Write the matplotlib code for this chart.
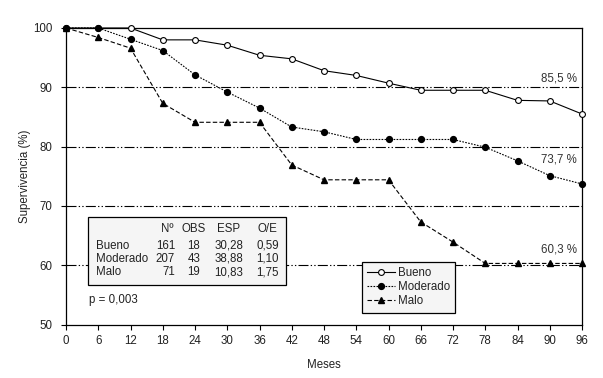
import matplotlib
matplotlib.use("Agg")
import matplotlib.pyplot as plt
import matplotlib.patches as mpatches

plt.rcParams["font.family"] = ["Liberation Sans", "DejaVu Sans"]

# Survival (%) per group
months = [0, 6, 12, 18, 24, 30, 36, 42, 48, 54, 60, 66, 72, 78, 84, 90, 96]
bueno = [100, 100, 100, 98.0, 98.0, 97.1, 95.4, 94.8, 92.8, 92.0, 90.7, 89.5, 89.5, 89.5, 87.8, 87.7, 85.5]
moderado = [100, 100, 98.1, 96.2, 92.1, 89.2, 86.5, 83.3, 82.5, 81.2, 81.2, 81.2, 81.2, 79.9, 77.6, 75.1, 73.7]
malo = [100, 98.4, 96.6, 87.3, 84.1, 84.1, 84.1, 76.9, 74.4, 74.4, 74.4, 67.3, 63.9, 60.3, 60.3, 60.3, 60.3]

end_labels = ["85,5 %", "73,7 %", "60,3 %"]

# Summary table
tbl_header = ["Nº", "OBS", "ESP", "O/E"]
tbl_groups = ["Bueno", "Moderado", "Malo"]
tbl_n = ["161", "207", "71"]
tbl_obs = ["18", "43", "19"]
tbl_esp = ["30,28", "38,88", "10,83"]
tbl_oe = ["0,59", "1,10", "1,75"]
p_text = "p = 0,003"

fs = 8.3
txt = "#222222"

fig = plt.figure(figsize=(6.03, 3.78), dpi=100)
ax = fig.add_axes([66 / 603, 1 - 324.5 / 378, 516 / 603, (324.5 - 28) / 378])

# dash-dot-dot reference lines
for yv in [60, 70, 80, 90]:
    ax.axhline(yv, color="black", lw=0.8, ls=(0, (9, 2, 1.2, 2, 1.2, 2)), zorder=1)

ax.plot(months, bueno, color="black", lw=0.8, ls="-", marker="o", ms=4.2,
        mfc="white", mec="black", mew=0.8, label="Bueno", zorder=3, clip_on=False)
ax.plot(months, moderado, color="black", lw=0.8, ls=(0, (1.5, 1.2)), marker="o", ms=4.2,
        mfc="black", mec="black", label="Moderado", zorder=3, clip_on=False)
ax.plot(months, malo, color="black", lw=0.8, ls=(0, (4, 2)), marker="^", ms=5.0,
        mfc="black", mec="black", label="Malo", zorder=3, clip_on=False)

ax.set_xlim(0, 96)
ax.set_ylim(50, 100)
ax.set_xticks(months)
ax.set_yticks([50, 60, 70, 80, 90, 100])
ax.tick_params(axis="both", direction="out", length=3.5, width=0.8, labelsize=fs,
               pad=4, labelcolor=txt)
ax.tick_params(axis="y", pad=6)
for s in ax.spines.values():
    s.set_linewidth(0.9)

ax.set_xlabel("Meses", fontsize=fs, labelpad=9, color=txt)
ax.set_ylabel("Supervivencia (%)", fontsize=fs, labelpad=2, color=txt)

# end-point labels
ax.text(95.1, 90.4, end_labels[0], ha="right", va="bottom", fontsize=fs, color="#333333")
ax.text(95.1, 77.9, end_labels[1], ha="right", va="center", fontsize=fs, color="#333333")
ax.text(95.1, 62.6, end_labels[2], ha="right", va="center", fontsize=fs, color="#333333")

# table box
ax.add_patch(mpatches.Rectangle((4.1, 56.6), 36.9, 11.5, facecolor="#f5f5f5",
                                edgecolor="black", lw=0.9, zorder=4))
head_x = [20.0, 23.8, 30.3, 37.5]
head_ha = ["right", "center", "center", "center"]
for hx, ha, h in zip(head_x, head_ha, tbl_header):
    ax.text(hx, 66.1, h, ha=ha, va="center", fontsize=fs, color=txt, zorder=5)
for i, g in enumerate(tbl_groups):
    yy = 63.3 - i * 2.25
    ax.text(5.6, yy, g, ha="left", va="center", fontsize=fs, color=txt, zorder=5)
    ax.text(20.3, yy, tbl_n[i], ha="right", va="center", fontsize=fs, color=txt, zorder=5)
    for cx, val in zip(head_x[1:], [tbl_obs[i], tbl_esp[i], tbl_oe[i]]):
        ax.text(cx, yy, val, ha="center", va="center", fontsize=fs, color=txt, zorder=5)
ax.text(4.2, 54.2, p_text, ha="left", va="center", fontsize=fs, color=txt)

leg = ax.legend(loc="upper left", bbox_to_anchor=(55.1 / 96, (60.6 - 50) / 50), fontsize=fs,
                frameon=True, fancybox=False, edgecolor="black", framealpha=1,
                handlelength=2.4, handletextpad=0.25, borderpad=0.45, labelspacing=0.2,
                borderaxespad=0)
leg.get_frame().set_linewidth(0.9)
leg.get_frame().set_facecolor("#f5f5f5")
for t in leg.get_texts():
    t.set_color(txt)
leg.set_zorder(6)

fig.savefig("out.png", dpi=100)
